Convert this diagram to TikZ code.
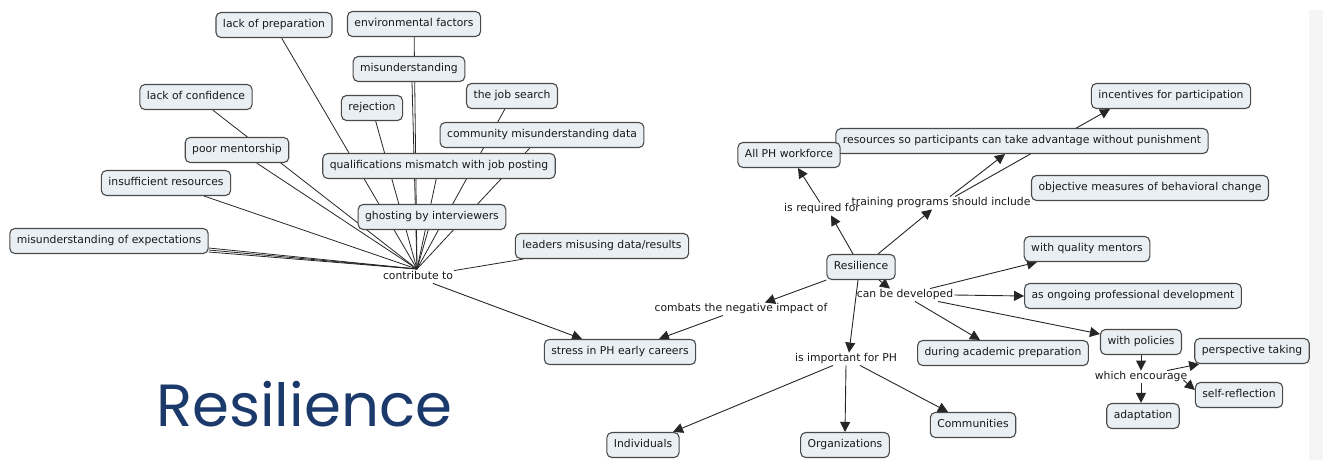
\documentclass[tikz,border=0pt]{standalone}
\usepackage{fontspec}
\setmainfont{DejaVu Sans}
\newfontfamily\titlefont{Poppins}
\usetikzlibrary{arrows.meta,backgrounds}
\definecolor{boxfill}{HTML}{E9EFF2}
\definecolor{boxline}{HTML}{4A4A4A}
\definecolor{inkline}{HTML}{262626}
\definecolor{navy}{HTML}{1B3A6B}
\definecolor{edgeband}{HTML}{F5F5F5}

\begin{document}
\begin{tikzpicture}[x=1pt,y=-1pt,
  font=\fontsize{10.8}{12}\selectfont,
  concept/.style={draw=boxline, fill=boxfill, line width=1.1pt, rounded corners=5pt,
    minimum height=25pt, inner xsep=7pt, inner ysep=0pt,
    text height=8pt, text depth=2.5pt, text=black!90},
  link/.style={inner sep=1pt, text height=8pt, text depth=2.5pt, text=black!90},
  spoke/.style={draw=inkline, line width=0.8pt},
  arrow/.style={draw=inkline, line width=0.9pt, -{Triangle[length=10pt,width=10pt]}},
]
\useasboundingbox (0,0) rectangle (1323,460);

% ---- causes of early-career stress ----
\node[concept] (lprep) at (274,25)  {lack of preparation};
\node[concept] (env)   at (414,24)  {environmental factors};
\node[concept] (mis)   at (409,69)  {misunderstanding};
\node[concept] (lconf) at (196,97)  {lack of confidence};
\node[concept] (rej)   at (372,108) {rejection};
\node[concept] (job)   at (512,96)  {the job search};
\node[concept] (comm)  at (542,135) {community misunderstanding data};
\node[concept] (poor)  at (237,150) {poor mentorship};
\node[concept] (qual)  at (439,166) {qualifications mismatch with job posting};
\node[concept] (insuf) at (166,183) {insufficient resources};
\node[concept] (ghost) at (432,217) {ghosting by interviewers};
\node[concept] (mexp)  at (109,241) {misunderstanding of expectations};
\node[concept] (lead)  at (602,246) {leaders misusing data/results};
\node[link]    (ct)    at (418,277) {contribute to};
\coordinate    (hub)   at (417,269);
\node[concept] (stress) at (620,352) {stress in PH early careers};

% ---- resilience ----
\node[concept] (incent) at (1171,96)  {incentives for participation};
\node[concept] (resrc)  at (1022,141) {resources so participants can take advantage without punishment};
\node[concept] (allph)  at (789,155)  {All PH workforce};
\node[concept] (obj)    at (1150,188) {objective measures of behavioral change};
\node[link]    (req)    at (822,209)  {is required for};
\node[link]    (train)  at (941,203)  {training programs should include};
\node[concept] (res)    at (861,267)  {Resilience};
\node[concept] (wqm)    at (1087,249) {with quality mentors};
\node[link]    (cbd)    at (905,295)  {can be developed};
\node[concept] (ongo)   at (1133,296) {as ongoing professional development};
\node[link]    (comb)   at (741,309)  {combats the negative impact of};
\node[concept] (during) at (1003,353) {during academic preparation};
\node[concept] (wpol)   at (1141,342) {with policies};
\node[link]    (imp)    at (846,359)  {is important for PH};
\node[concept] (persp)  at (1252,351) {perspective taking};
\node[link]    (we)     at (1141,377) {which encourage};
\node[concept] (self)   at (1239,395) {self-reflection};
\node[concept] (adapt)  at (1143,416) {adaptation};
\node[concept] (commu)  at (973,425)  {Communities};
\node[concept] (indiv)  at (643,445)  {Individuals};
\node[concept] (org)    at (845,445)  {Organizations};

\node[anchor=base west, inner sep=0pt, text=navy,
  font=\titlefont\fontsize{59.5}{62}\selectfont] (title) at (156,426) {Resilience};

\begin{scope}[on background layer]
  \fill[edgeband] (1309,10) rectangle (1323,460);

  % spokes into "contribute to"
  \draw[spoke] ([yshift=-7pt]mexp.east)  -- (hub);
  \draw[spoke] ([yshift=-9pt]mexp.east)  -- (hub);
  \draw[spoke] ([yshift=-11pt]mexp.east) -- (hub);
  \draw[spoke] (insuf) -- (hub);
  \draw[spoke] (lconf) -- (hub);
  \draw[spoke] (poor)  -- (hub);
  \draw[spoke] (lprep) -- (hub);
  \draw[spoke] (rej)   -- (hub);
  \draw[spoke] (env)   -- (hub);
  \draw[spoke] ([xshift=3pt]mis.south) -- (hub);
  \draw[spoke] (job)   -- (hub);
  \draw[spoke] (comm)  -- (hub);
  \draw[spoke] (qual)  -- (hub);
  \draw[spoke] (ghost) -- (hub);
  \draw[spoke] (lead)  -- (ct.north east);
  \draw[arrow] ([xshift=15pt]ct.south) -- ([xshift=-38pt]stress.north);

  % resilience links
  \draw[arrow] ([xshift=-8pt]res.north) -- ([xshift=9pt]req.south);
  \draw[arrow] ([xshift=-2pt]req.north) -- ([xshift=9pt]allph.south);
  \draw[arrow] ([xshift=17pt]res.north) -- ([xshift=-9pt]train.south);
  \draw[arrow] ([xshift=9pt]train.north) -- ([xshift=-17pt]resrc.south);
  \draw[arrow] ([xshift=14pt]train.north) -- ([xshift=-61pt]incent.south);
  \draw[arrow] ([xshift=18pt]res.south) -- ([xshift=-15pt]cbd.north);
  \draw[arrow] ([xshift=25pt]cbd.north) -- ([xshift=-50pt]wqm.south);
  \draw[arrow] (cbd.east) -- (ongo.west);
  \draw[arrow] ([xshift=10pt]cbd.south) -- ([xshift=-23pt]during.north);
  \draw[arrow] ([xshift=33pt]cbd.south) -- ([yshift=8pt]wpol.west);
  \draw[arrow] (res.south west) -- ([xshift=24pt]comb.north);
  \draw[arrow] ([xshift=-18pt]comb.south) -- ([xshift=39pt]stress.north);
  \draw[arrow] ([xshift=-3pt]res.south) -- ([xshift=3pt]imp.north);
  \draw[arrow] ([xshift=-13pt]imp.south) -- ([xshift=30pt]indiv.north);
  \draw[arrow] (imp.south) -- (org.north);
  \draw[arrow] ([xshift=14pt]imp.south) -- ([xshift=-25pt]commu.north);
  \draw[arrow] (wpol.south) -- (we.north);
  \draw[arrow] (we.south) -- ([xshift=-2pt]adapt.north);
  \draw[arrow] ([xshift=26pt]we.north) -- ([xshift=5pt]persp.south west);
  \draw[arrow] ([xshift=-5pt,yshift=-3pt]we.east) -- ([yshift=5pt]self.west);
\end{scope}
\end{tikzpicture}
\end{document}
